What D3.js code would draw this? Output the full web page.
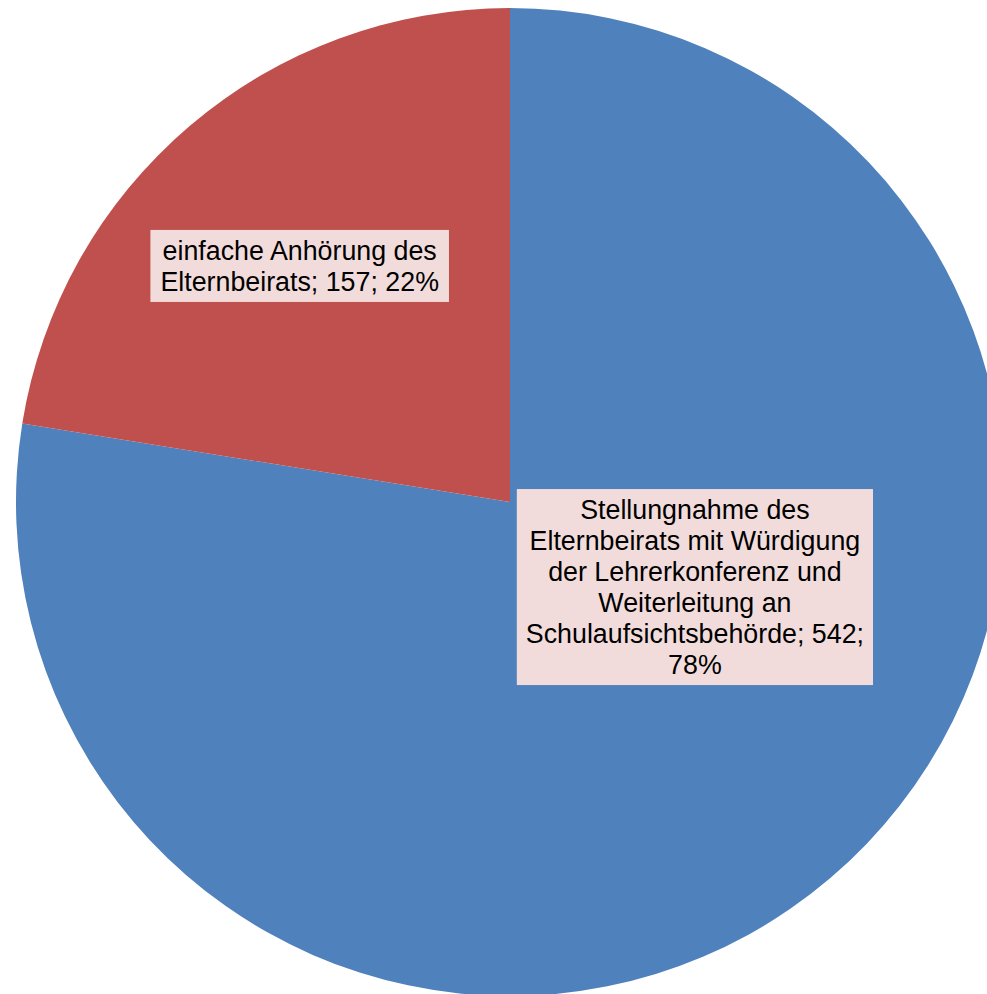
<!DOCTYPE html>
<html>
<head>
<meta charset="utf-8">
<script src="https://cdn.jsdelivr.net/npm/d3@7"></script>
<style>
  html, body { margin: 0; padding: 0; background: #ffffff; overflow: hidden; }
  svg { display: block; }
</style>
</head>
<body>
<div id="chart"></div>
<script>
// Chart data
const categories = [
  'Stellungnahme des Elternbeirats mit Würdigung der Lehrerkonferenz und Weiterleitung an Schulaufsichtsbehörde',
  'einfache Anhörung des Elternbeirats'
];
const counts = [542, 157];
const colors = ['#4F81BD', '#C0504D'];

const width = 987;
const height = 994;
const cx = 510;
const cy = 502;
const radius = 494;
const fontSize = 26.8;
const lineHeight = 31;

const total = d3.sum(counts);
const data = categories.map((name, i) => ({ name, value: counts[i], color: colors[i] }));

const svg = d3.select('#chart')
  .append('svg')
  .attr('width', width)
  .attr('height', height);

const g = svg.append('g')
  .attr('transform', `translate(${cx},${cy})`);

const pie = d3.pie()
  .sort(null)
  .value((d) => d.value);

const arc = d3.arc()
  .innerRadius(0)
  .outerRadius(radius);

const arcs = pie(data);

g.selectAll('path.slice')
  .data(arcs)
  .enter()
  .append('path')
  .attr('class', 'slice')
  .attr('d', arc)
  .attr('fill', (d) => d.data.color)
  .attr('stroke', 'none');

// label placement (angle in radians clockwise from top, radius as fraction of pie radius)
const labelLayout = [
  { angle: 114.7 * Math.PI / 180, r: 0.412, maxWidth: 350, padX: 9, padY: 5 },
  { angle: 318.3 * Math.PI / 180, r: 0.64, maxWidth: 292, padX: 10, padY: 5 }
];

// measure helper
const measure = svg.append('text')
  .attr('font-family', 'Liberation Sans, Arial, sans-serif')
  .attr('font-size', fontSize)
  .attr('visibility', 'hidden');

function textWidth(s) {
  measure.text(s);
  return measure.node().getComputedTextLength();
}

function wrap(s, maxWidth) {
  const words = s.split(' ');
  const lines = [];
  let line = '';
  words.forEach((w) => {
    const test = line ? line + ' ' + w : w;
    if (line && textWidth(test) > maxWidth) {
      lines.push(line);
      line = w;
    } else {
      line = test;
    }
  });
  if (line) lines.push(line);
  return lines;
}

arcs.forEach((d, i) => {
  const layout = labelLayout[i];
  const pct = Math.round(d.data.value / total * 100);
  const label = `${d.data.name}; ${d.data.value}; ${pct}%`;
  const lines = wrap(label, layout.maxWidth);
  const maxW = d3.max(lines, textWidth);
  const boxW = maxW + layout.padX * 2;
  const boxH = lines.length * lineHeight + layout.padY * 2;
  const [px, py] = d3.pointRadial(layout.angle, layout.r * radius);

  const lg = g.append('g')
    .attr('class', 'label')
    .attr('transform', `translate(${px},${py})`);

  lg.append('rect')
    .attr('x', -boxW / 2)
    .attr('y', -boxH / 2)
    .attr('width', boxW)
    .attr('height', boxH)
    .attr('fill', '#F2DCDB');

  const text = lg.append('text')
    .attr('font-family', 'Liberation Sans, Arial, sans-serif')
    .attr('font-size', fontSize)
    .attr('fill', '#000000')
    .attr('text-anchor', 'middle');

  lines.forEach((ln, k) => {
    text.append('tspan')
      .attr('x', 0)
      .attr('y', -boxH / 2 + layout.padY + k * lineHeight + lineHeight * 0.5)
      .attr('dy', '0.35em')
      .text(ln);
  });
});

measure.remove();
</script>
</body>
</html>
